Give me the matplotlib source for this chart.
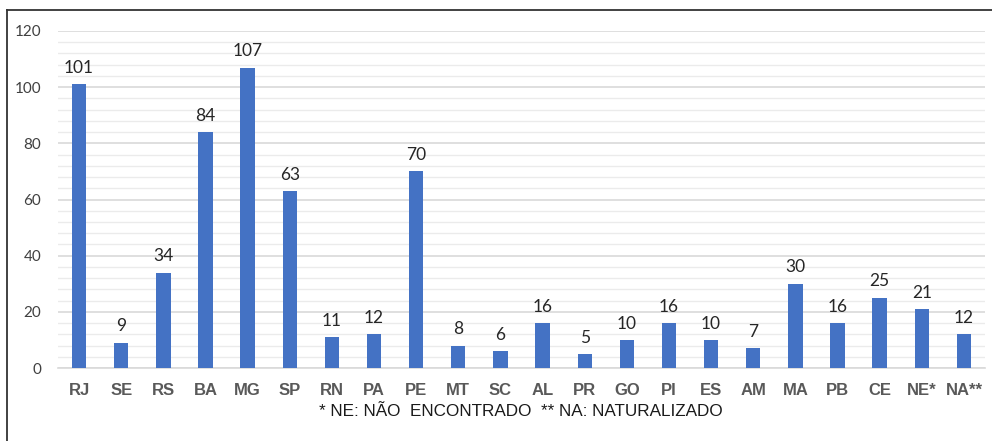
import matplotlib
matplotlib.use("Agg")
import matplotlib.pyplot as plt
from matplotlib.lines import Line2D
from matplotlib.ticker import MultipleLocator

categories = ["RJ", "SE", "RS", "BA", "MG", "SP", "RN", "PA", "PE", "MT", "SC", "AL",
              "PR", "GO", "PI", "ES", "AM", "MA", "PB", "CE", "NE*", "NA**"]
values = [101, 9, 34, 84, 107, 63, 11, 12, 70, 8, 6, 16, 5, 10, 16, 10, 7, 30, 16, 25, 21, 12]
yticks = [0, 20, 40, 60, 80, 100, 120]
footnote = "* NE: NÃO  ENCONTRADO  ** NA: NATURALIZADO"

W, H = 992, 441
fig = plt.figure(figsize=(W / 100, H / 100), dpi=100)
ax = fig.add_axes([58 / W, (H - 368) / H, (985 - 58) / W, (368 - 31) / H])

x = list(range(len(categories)))
ax.bar(x, values, width=0.34, color="#4472C4", zorder=3)
ax.set_xlim(-0.5, len(categories) - 0.5)
ax.set_ylim(0, 120)
ax.set_yticks(yticks)
ax.yaxis.set_minor_locator(MultipleLocator(4))
ax.grid(axis="y", which="major", color="#d9d9d9", linewidth=1.2, zorder=0)
ax.grid(axis="y", which="minor", color="#ebebeb", linewidth=1.0, zorder=0)
for s in ["top", "right", "left"]:
    ax.spines[s].set_visible(False)
ax.spines["bottom"].set_color("#d9d9d9")
ax.spines["bottom"].set_linewidth(1.2)
ax.tick_params(axis="both", which="both", length=0)
ax.set_xticks(x)
ax.set_xticklabels(categories, fontfamily="Liberation Sans", fontweight="bold",
                   fontsize=12, color="#595959")
ax.tick_params(axis="x", pad=11)
ax.tick_params(axis="y", pad=12)
for lbl in ax.get_yticklabels():
    lbl.set_fontfamily("Lato")
    lbl.set_fontsize(11)
    lbl.set_color("#404040")

for xi, v in zip(x, values):
    ax.annotate(str(v), (xi, v), xytext=(0, 6), textcoords="offset points",
                ha="center", va="bottom", fontfamily="Lato", fontsize=12.5,
                color="#262626")

fig.text(521 / W, 1 - 412 / H, footnote, ha="center", va="center",
         fontfamily="Liberation Sans", fontsize=12.3, color="#1a1a1a")

fig.add_artist(Line2D([7 / W, 1.0], [1 - 10 / H, 1 - 10 / H], transform=fig.transFigure,
                      color="#333333", linewidth=1.3))
fig.add_artist(Line2D([7 / W, 7 / W], [0, 1 - 10 / H], transform=fig.transFigure,
                      color="#333333", linewidth=1.3))

fig.savefig("out.png", dpi=100)
